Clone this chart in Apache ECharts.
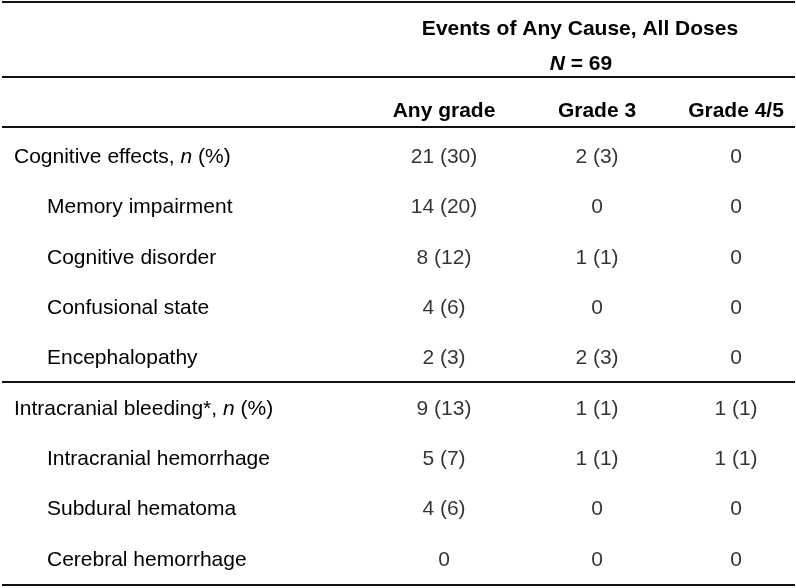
<!DOCTYPE html>
<html>
<head>
<meta charset="utf-8">
<script src="https://cdn.jsdelivr.net/npm/echarts@6/dist/echarts.min.js"></script>
<style>html,body{margin:0;padding:0;background:#fff}#c{width:796px;height:588px}</style>
</head>
<body>
<div id="c"></div>
<script>
// ---- data ----
var headerTitle = 'Events of Any Cause, All Doses';
var headerN = '69';
var columns = ['Any grade', 'Grade 3', 'Grade 4/5'];
var rowLabels = ['Cognitive effects, n (%)', 'Memory impairment', 'Cognitive disorder', 'Confusional state', 'Encephalopathy',
                 'Intracranial bleeding*, n (%)', 'Intracranial hemorrhage', 'Subdural hematoma', 'Cerebral hemorrhage'];
var rowLevel = [0, 1, 1, 1, 1, 0, 1, 1, 1];
var anyGrade = ['21 (30)', '14 (20)', '8 (12)', '4 (6)', '2 (3)', '9 (13)', '5 (7)', '4 (6)', '0'];
var grade3   = ['2 (3)', '0', '1 (1)', '0', '2 (3)', '1 (1)', '1 (1)', '0', '0'];
var grade45  = ['0', '0', '0', '0', '0', '1 (1)', '1 (1)', '0', '0'];
var columnValues = [anyGrade, grade3, grade45];

// ---- layout ----
var FONT = "'Liberation Sans', Arial, sans-serif";
var FS = 21;
var colCenters = [444, 597, 736];
var colW = 100;
var gridTop = 132, gridH = 453;
var labelLeft = 14, indent = 33;

var chart = echarts.init(document.getElementById('c'), null, {renderer: 'canvas'});

var grids = [], xAxes = [], yAxes = [], series = [];
columns.forEach(function (col, j) {
  var left = colCenters[j] - colW / 2;
  grids.push({left: left, top: gridTop, width: colW, height: gridH});
  xAxes.push({
    type: 'category', gridIndex: j, data: [col], position: 'top',
    axisLine: {show: false}, axisTick: {show: false}, splitLine: {show: false},
    axisLabel: {margin: 10, color: '#000', fontFamily: FONT, fontWeight: 'bold', fontSize: FS}
  });
  yAxes.push({
    type: 'category', gridIndex: j, data: rowLabels, inverse: true,
    axisLine: {show: false}, axisTick: {show: false}, splitLine: {show: false},
    axisLabel: j === 0 ? {
      show: true, align: 'left', margin: left - labelLeft, color: '#000',
      fontFamily: FONT, fontSize: FS,
      formatter: function (v, idx) {
        if (rowLevel[idx] === 0) {
          var parts = v.split(' n ');
          return '{a|' + parts[0] + ' }{i|n}{a| ' + parts[1] + '}';
        }
        return '{s|' + v + '}';
      },
      rich: {
        a: {fontFamily: FONT, fontSize: FS, color: '#000'},
        i: {fontFamily: FONT, fontSize: FS, color: '#000', fontStyle: 'italic'},
        s: {fontFamily: FONT, fontSize: FS, color: '#000', padding: [0, 0, 0, indent]}
      }
    } : {show: false}
  });
  series.push({
    type: 'scatter', xAxisIndex: j, yAxisIndex: j,
    symbolSize: 1, itemStyle: {color: 'transparent'},
    data: columnValues[j].map(function (v, i) { return [0, i, v]; }),
    label: {
      show: true, position: 'inside', color: '#000', fontFamily: FONT, fontSize: FS,
      formatter: function (p) { return p.value[2]; }
    },
    silent: true
  });
});

function hline(y) {
  return {type: 'line', shape: {x1: 2, y1: y, x2: 795, y2: y}, style: {stroke: '#111', lineWidth: 2}};
}

chart.setOption({
  animation: false,
  backgroundColor: '#fff',
  grid: grids,
  xAxis: xAxes,
  yAxis: yAxes,
  series: series,
  graphic: [
    hline(2), hline(77), hline(127), hline(382), hline(585),
    {type: 'text', style: {text: headerTitle, x: 580, y: 29, align: 'center', verticalAlign: 'middle',
      font: 'bold ' + FS + 'px ' + FONT, fill: '#000'}},
    {type: 'text', style: {text: '{i|N}{b| = ' + headerN + '}', x: 581, y: 64, align: 'center', verticalAlign: 'middle',
      rich: {i: {fontFamily: FONT, fontSize: FS, fontWeight: 'bold', fontStyle: 'italic', fill: '#000'},
             b: {fontFamily: FONT, fontSize: FS, fontWeight: 'bold', fill: '#000'}}}}
  ]
});
</script>
</body>
</html>
